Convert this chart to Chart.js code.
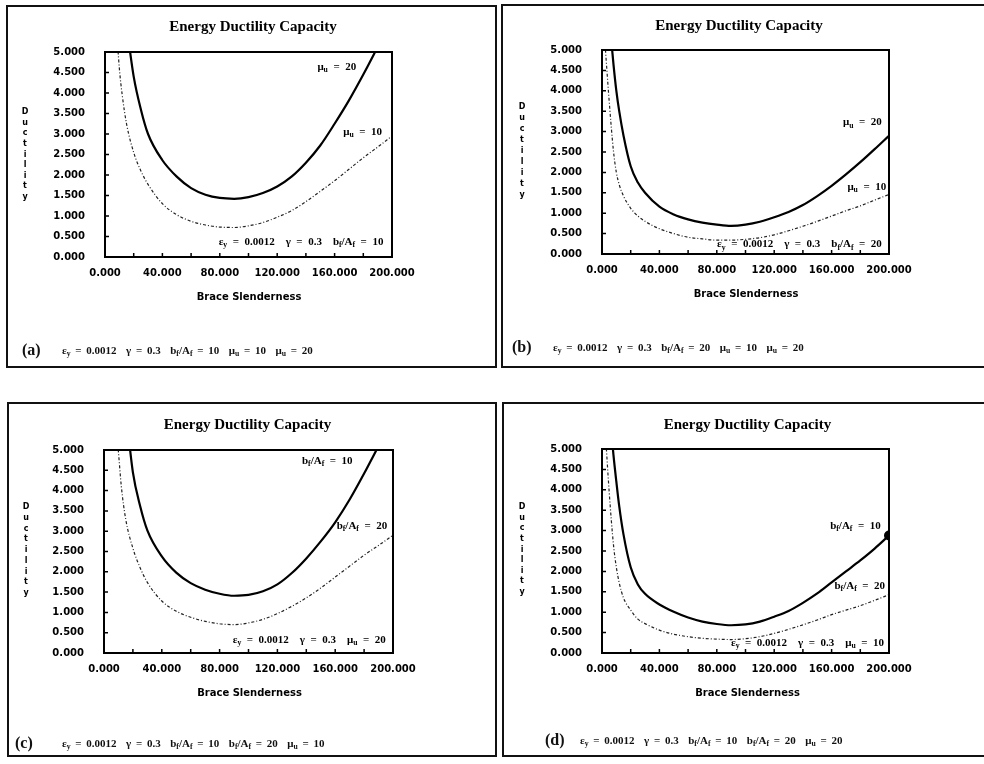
<!DOCTYPE html>
<html><head><meta charset="utf-8">
<script src="https://cdn.jsdelivr.net/npm/chart.js@4.4.1/dist/chart.umd.min.js"></script>
<style>
html,body{margin:0;padding:0;background:#fff;}
body{width:984px;height:764px;overflow:hidden;position:relative;font-family:"Liberation Serif",serif;color:#111;}
.frame{position:absolute;border:2px solid #111;box-sizing:border-box;}
canvas{position:absolute;}
.lab{position:absolute;white-space:nowrap;font-weight:bold;font-size:16px;line-height:20px;}
.txt{position:absolute;white-space:nowrap;font-weight:bold;font-size:11px;line-height:14px;word-spacing:2px;}
sub{font-size:70%;vertical-align:-0.3em;line-height:0;}
</style></head><body>
<div class="frame" style="left:6px;top:5px;width:491px;height:363px"></div>
<div class="frame" style="left:501px;top:4px;width:490px;height:364px"></div>
<div class="frame" style="left:7px;top:402px;width:490px;height:355px"></div>
<div class="frame" style="left:502px;top:402px;width:490px;height:355px"></div>
<canvas id="ca" width="490" height="362" style="left:6px;top:5px"></canvas>
<canvas id="cb" width="482" height="362" style="left:502px;top:5px"></canvas>
<canvas id="cc" width="488" height="354" style="left:8px;top:403px"></canvas>
<canvas id="cd" width="481" height="354" style="left:503px;top:403px"></canvas>
<div id="caps"></div>
<script>
// ---------- data ----------
const chartTitle = 'Energy Ductility Capacity';
const xAxisTitle = 'Brace Slenderness';
const yAxisTitle = 'Ductility';
const xTickLabels = ['0.000','40.000','80.000','120.000','160.000','200.000'];
const yTickLabels = ['0.000','0.500','1.000','1.500','2.000','2.500','3.000','3.500','4.000','4.500','5.000'];
const xValues = [2,5,8,10,12,15,20,25,30,40,50,60,70,80,90,100,110,120,130,140,150,160,170,180,190,200];

const aSolid  = [null,null,null,null,null,5.65,4.4,3.6,3.0,2.36,1.96,1.68,1.52,1.44,1.42,1.46,1.56,1.72,1.96,2.3,2.72,3.25,3.82,4.45,5.12,5.8];
const aDotted = [null,null,5.6,4.6,3.95,3.25,2.55,2.1,1.77,1.3,1.03,0.87,0.78,0.73,0.72,0.76,0.84,0.97,1.13,1.35,1.6,1.86,2.14,2.42,2.68,2.95];
const bSolid  = [null,5.8,4.65,4.0,3.5,2.9,2.15,1.75,1.5,1.16,0.97,0.85,0.77,0.72,0.69,0.72,0.79,0.9,1.03,1.2,1.42,1.67,1.95,2.25,2.57,2.9];
const bDotted = [5.2,3.75,2.52,2.0,1.7,1.42,1.12,0.93,0.8,0.62,0.5,0.41,0.37,0.34,0.34,0.36,0.4,0.47,0.57,0.68,0.8,0.93,1.06,1.18,1.32,1.46];
const cSolid  = [null,null,null,null,null,6.0,4.45,3.62,3.02,2.38,1.98,1.72,1.56,1.46,1.41,1.43,1.52,1.69,1.97,2.33,2.75,3.22,3.78,4.42,5.1,5.8];
const cDotted = [null,null,5.8,4.95,4.1,3.3,2.58,2.1,1.74,1.28,1.03,0.88,0.78,0.72,0.70,0.74,0.83,0.97,1.15,1.36,1.6,1.87,2.14,2.41,2.65,2.9];
const dSolid  = [null,6.0,4.85,4.2,3.6,2.9,2.1,1.68,1.45,1.19,1.01,0.87,0.77,0.71,0.68,0.7,0.77,0.89,1.03,1.23,1.46,1.73,2.0,2.27,2.56,2.88];
const dDotted = [5.6,3.95,2.65,2.1,1.72,1.35,1.05,0.83,0.72,0.56,0.46,0.4,0.36,0.34,0.33,0.35,0.4,0.48,0.58,0.69,0.81,0.94,1.05,1.16,1.29,1.43];

const captionLabels = ['(a)','(b)','(c)','(d)'];
const captionTexts = [
  'ε_{y} = 0.0012  γ = 0.3  b_{f}/A_{f} = 10  μ_{u} = 10  μ_{u} = 20',
  'ε_{y} = 0.0012  γ = 0.3  b_{f}/A_{f} = 20  μ_{u} = 10  μ_{u} = 20',
  'ε_{y} = 0.0012  γ = 0.3  b_{f}/A_{f} = 10  b_{f}/A_{f} = 20  μ_{u} = 10',
  'ε_{y} = 0.0012  γ = 0.3  b_{f}/A_{f} = 10  b_{f}/A_{f} = 20  μ_{u} = 20'
];
const annotTexts = [
  ['μ_{u}  =  20','μ_{u}  =  10','ε_{y}  =  0.0012    γ  =  0.3    b_{f}/A_{f}  =  10'],
  ['μ_{u}  =  20','μ_{u}  =  10','ε_{y}  =  0.0012    γ  =  0.3    b_{f}/A_{f}  =  20'],
  ['b_{f}/A_{f}  =  10','b_{f}/A_{f}  =  20','ε_{y}  =  0.0012    γ  =  0.3    μ_{u}  =  20'],
  ['b_{f}/A_{f}  =  10','b_{f}/A_{f}  =  20','ε_{y}  =  0.0012    γ  =  0.3    μ_{u}  =  10']
];

// ---------- layout (positions, not data) ----------
const panels = [
  {id:'ca', solid:aSolid, dotted:aDotted, area:{l:99,t:47,r:386,b:252}, title:[247,22], xt:[243,292], yt:[19,107,192],
   ann:[{x:148,y:4.63,al:'left'},{x:166,y:3.05,al:'left'},{x:194,y:0.37,al:'right'}],
   cap:{lx:22,ly:350,tx:62}, blob:false},
  {id:'cb', solid:bSolid, dotted:bDotted, area:{l:100,t:45,r:387,b:249}, title:[237,21], xt:[244,289], yt:[20,102,190],
   ann:[{x:168,y:3.23,al:'left'},{x:171,y:1.64,al:'left'},{x:195,y:0.23,al:'right'}],
   cap:{lx:512,ly:347,tx:553}, blob:false},
  {id:'cc', solid:cSolid, dotted:cDotted, area:{l:96,t:47,r:385,b:250}, title:[239.5,22], xt:[241.5,290], yt:[18,104,190],
   ann:[{x:137,y:4.73,al:'left'},{x:161,y:3.13,al:'left'},{x:195,y:0.32,al:'right'}],
   cap:{lx:15,ly:743,tx:62}, blob:false},
  {id:'cd', solid:dSolid, dotted:dDotted, area:{l:99,t:46,r:386,b:250}, title:[244.5,22], xt:[244.5,290], yt:[19,104,189],
   ann:[{x:159,y:3.12,al:'left'},{x:162,y:1.64,al:'left'},{x:196.5,y:0.25,al:'right'}],
   cap:{lx:545,ly:740,tx:580}, blob:true}
];

function parseRich(s){
  const segs=[]; const re=/_\{([^}]*)\}/g; let last=0,m;
  while((m=re.exec(s))){ if(m.index>last) segs.push({t:s.slice(last,m.index)}); segs.push({t:m[1],sub:true}); last=re.lastIndex; }
  if(last<s.length) segs.push({t:s.slice(last)});
  return segs;
}
function richHTML(s){ return parseRich(s).map(g=>g.sub?'<sub>'+g.t+'</sub>':g.t.replace(/  /g,' &nbsp;')).join(''); }
function drawRich(ctx,s,x,y,size,align){
  const segs=parseRich(s); const fam='"Liberation Serif", serif';
  const f=sub=>'bold '+(sub?size*0.7:size)+'px '+fam;
  let w=0; segs.forEach(g=>{ctx.font=f(g.sub); g.w=ctx.measureText(g.t).width; w+=g.w;});
  let cx = align==='right'? x-w : align==='center'? x-w/2 : x;
  ctx.textAlign='left'; ctx.textBaseline='middle';
  segs.forEach(g=>{ctx.font=f(g.sub); ctx.fillText(g.t,cx,y+(g.sub?size*0.3:0)); cx+=g.w;});
}

const deco = {
  id:'deco',
  afterDraw(chart,args,o){
    const {ctx, chartArea:a, scales:{x,y}} = chart;
    const p=o.panel, k=o.index;
    ctx.save();
    ctx.strokeStyle='#000'; ctx.fillStyle='#000';
    ctx.lineWidth=2;
    ctx.strokeRect(a.left,a.top,a.right-a.left,a.bottom-a.top);
    ctx.lineWidth=1.5;
    ctx.beginPath();
    x.ticks.forEach(t=>{ if(t.value>0 && t.value<200){ const px=x.getPixelForValue(t.value); ctx.moveTo(px,a.bottom); ctx.lineTo(px,a.bottom-4);} });
    y.ticks.forEach(t=>{ if(t.value>0 && t.value<5){ const py=y.getPixelForValue(t.value); ctx.moveTo(a.left,py); ctx.lineTo(a.left+4,py);} });
    ctx.stroke();
    ctx.textAlign='center'; ctx.textBaseline='middle';
    ctx.font='bold 15px "Liberation Serif", serif';
    ctx.fillText(chartTitle,p.title[0],p.title[1]);
    ctx.font='bold 10px "DejaVu Sans", sans-serif';
    ctx.fillText(xAxisTitle,p.xt[0],p.xt[1]);
    ctx.font='bold 8px "DejaVu Sans", sans-serif';
    const L=yAxisTitle.split(''); const step=(p.yt[2]-p.yt[1])/(L.length-1);
    L.forEach((c,i)=>ctx.fillText(c,p.yt[0],p.yt[1]+i*step));
    p.ann.forEach((an,i)=>{
      drawRich(ctx,annotTexts[k][i],x.getPixelForValue(an.x),y.getPixelForValue(an.y),11,an.al);
    });
    ctx.restore();
  }
};

panels.forEach((p,k)=>{
  const cv=document.getElementById(p.id);
  const W=cv.width,H=cv.height;
  const mk=arr=>xValues.map((xv,i)=>({x:xv,y:arr[i]}));
  const lastIdx = p.solid.length-1;
  new Chart(cv,{
    type:'line',
    data:{datasets:[
      {label:'solid',data:mk(p.solid),borderColor:'#000',borderWidth:2.2,
       pointRadius:p.solid.map((v,i)=>(p.blob && i===lastIdx)?5:0),pointBackgroundColor:'#000',pointBorderWidth:0,
       cubicInterpolationMode:'monotone',fill:false},
      {label:'dotted',data:mk(p.dotted),borderColor:'#222',borderWidth:1.2,borderDash:[3,2,1,2],pointRadius:0,
       cubicInterpolationMode:'monotone',fill:false}
    ]},
    options:{
      responsive:false,animation:false,devicePixelRatio:1,
      layout:{padding:{left:0,top:p.area.t,right:W-p.area.r,bottom:0}},
      plugins:{legend:{display:false},tooltip:{enabled:false},title:{display:false},deco:{panel:p,index:k}},
      scales:{
        x:{type:'linear',min:0,max:200,
           ticks:{stepSize:20,autoSkip:false,maxRotation:0,padding:10,color:'#000',
                  font:{family:'"DejaVu Sans", sans-serif',size:10,weight:'bold'},
                  callback:v=> (v%40===0)? xTickLabels[v/40] : ''},
           grid:{display:false,drawTicks:false},border:{display:false},
           afterFit:s=>{s.height=H-p.area.b;}},
        y:{type:'linear',min:0,max:5,
           ticks:{stepSize:0.5,autoSkip:false,padding:20,color:'#000',
                  font:{family:'"DejaVu Sans", sans-serif',size:10,weight:'bold'},
                  callback:v=>yTickLabels[Math.round(v*2)]},
           grid:{display:false,drawTicks:false},border:{display:false},
           afterFit:s=>{s.width=p.area.l;}}
      }
    },
    plugins:[deco]
  });
  const caps=document.getElementById('caps');
  const lab=document.createElement('div'); lab.className='lab';
  lab.style.left=p.cap.lx+'px'; lab.style.top=(p.cap.ly-10)+'px'; lab.textContent=captionLabels[k];
  const txt=document.createElement('div'); txt.className='txt';
  txt.style.left=p.cap.tx+'px'; txt.style.top=(p.cap.ly-7)+'px'; txt.innerHTML=richHTML(captionTexts[k]);
  caps.appendChild(lab); caps.appendChild(txt);
});
</script>
</body></html>
